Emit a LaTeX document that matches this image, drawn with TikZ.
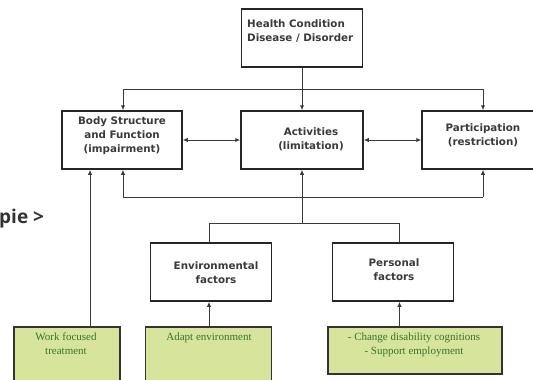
\documentclass[tikz,border=0pt]{standalone}
\usepackage{fontspec}
\setmainfont{DejaVu Sans}
\newfontfamily\greenserif{Liberation Serif}
\newfontfamily\piefont{Open Sans}
\usetikzlibrary{arrows.meta}
\definecolor{greenfill}{HTML}{D6E59B}
\definecolor{greentext}{HTML}{3A7232}
\definecolor{boxtext}{HTML}{3A3A3A}
\definecolor{linec}{HTML}{3A3A3A}
\begin{document}
\begin{tikzpicture}[x=1pt,y=-1pt,
  box/.style={draw=black!85, line width=1.5pt, fill=white, inner sep=0pt},
  gbox/.style={draw=black!80, line width=1.4pt, fill=greenfill, inner sep=0pt},
  lbl/.style={font=\bfseries\fontsize{10.3}{14}\selectfont, text=boxtext, align=center, inner sep=0pt},
  glbl/.style={font=\greenserif\fontsize{11}{14}\selectfont, text=greentext, align=center, inner sep=0pt},
  conn/.style={draw=linec, line width=1pt},
  arr/.style={conn, -{Latex[length=5pt,width=4.5pt]}},
  darr/.style={conn, {Latex[length=5pt,width=4.5pt]}-{Latex[length=5pt,width=4.5pt]}}]
\useasboundingbox (0,0) rectangle (533,380);
\fill[white] (0,0) rectangle (533,380);

% boxes
\node[box, minimum width=121pt, minimum height=58pt] (hc) at (302,38) {};
\node[box, minimum width=120pt, minimum height=58pt] (body) at (122,140) {};
\node[box, minimum width=122pt, minimum height=58pt] (act) at (302,140) {};
\node[box, minimum width=123pt, minimum height=58pt] (part) at (483.5,140) {};
\node[box, minimum width=121pt, minimum height=58pt] (env) at (211,272) {};
\node[box, minimum width=121pt, minimum height=58pt] (pers) at (393,272) {};
\node[gbox, minimum width=106pt, minimum height=57pt] (work) at (67,355.5) {};
\node[gbox, minimum width=126pt, minimum height=57pt] (adapt) at (208.5,355.5) {};
\node[gbox, minimum width=174pt, minimum height=47pt] (chg) at (415,350.5) {};

% labels
\node[lbl, anchor=west, align=left] (hct) at (247,31) {Health Condition\\Disease / Disorder};
\node[lbl] (bodyt) at (122,136) {Body Structure\\and Function\\(impairment)};
\node[lbl] (actt) at (311,139) {Activities\\(limitation)};
\node[lbl] (partt) at (483,135) {Participation\\(restriction)};
\node[lbl] (envt) at (216,273) {Environmental\\factors};
\node[lbl] (perst) at (394,270) {Personal\\factors};
\node[glbl, anchor=north] (workt) at (66,333) {Work focused\\treatment};
\node[glbl, anchor=north] (adaptt) at (209,333) {Adapt environment};
\node[glbl, anchor=north] (chgt) at (414,333) {- Change disability cognitions\\- Support employment};
\node[font=\piefont\bfseries\fontsize{19}{22}\selectfont, text=black!80, anchor=base west, inner sep=0pt] (pie) at (-1,223) {pie >};

% coordinates
\coordinate (topL) at (123,89);
\coordinate (topR) at (483,89);
\coordinate (botL) at (123,197);
\coordinate (botM) at (302,197);
\coordinate (botR) at (483,197);
\coordinate (junc) at (302,223);
\coordinate (jl) at (209,223);
\coordinate (jr) at (399.5,223);
\coordinate (wk) at (90,327);

% connectors
\draw[arr] (hc.south) -- (act.north);
\draw[conn] (topL) -- (topR);
\draw[arr] (topL) -- (topL |- body.north);
\draw[arr] (topR) -- (topR |- part.north);
\draw[darr] (body.east) -- (act.west);
\draw[darr] (act.east) -- (part.west);
\draw[conn] (botL) -- (botR);
\draw[arr] (botL) -- (botL |- body.south);
\draw[arr] (botM) -- (act.south);
\draw[arr] (botR) -- (botR |- part.south);
\draw[conn] (botM) -- (junc);
\draw[conn] (jl) -- (jr);
\draw[conn] (jl) -- (jl |- env.north);
\draw[conn] (jr) -- (jr |- pers.north);
\draw[arr] (wk) -- (wk |- body.south);
\draw[arr] (jl |- adapt.north) -- (jl |- env.south);
\draw[arr] (jr |- chg.north) -- (jr |- pers.south);
\end{tikzpicture}
\end{document}
